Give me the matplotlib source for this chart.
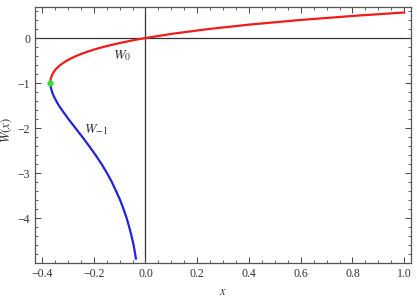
import matplotlib
matplotlib.use('Agg')
import matplotlib.pyplot as plt
from matplotlib.ticker import MultipleLocator

# points (x, W)
w0_x = [-0.368, -0.367, -0.366, -0.363, -0.359, -0.354, -0.348, -0.339, -0.329, -0.317,
        -0.303, -0.287, -0.268, -0.247, -0.222, -0.195, -0.164, -0.129, -0.090, -0.048,
        0.0, 0.111, 0.244, 0.405, 0.597, 0.824, 1.0]
w0_y = [-1.0, -0.95, -0.9, -0.85, -0.8, -0.75, -0.7, -0.65, -0.6, -0.55,
        -0.5, -0.45, -0.4, -0.35, -0.3, -0.25, -0.2, -0.15, -0.1, -0.05,
        0.0, 0.1, 0.2, 0.3, 0.4, 0.5, 0.567]

wm1_x = [-0.368, -0.366, -0.361, -0.354, -0.345, -0.335, -0.323, -0.298, -0.271, -0.244,
         -0.218, -0.193, -0.170, -0.149, -0.130, -0.114, -0.098, -0.085, -0.073, -0.063,
         -0.054, -0.046, -0.040, -0.037]
wm1_y = [-1.0, -1.1, -1.2, -1.3, -1.4, -1.5, -1.6, -1.8, -2.0, -2.2,
         -2.4, -2.6, -2.8, -3.0, -3.2, -3.4, -3.6, -3.8, -4.0, -4.2,
         -4.4, -4.6, -4.8, -4.9]

branch_point = (-0.368, -1.0)

plt.rcParams['font.family'] = ['Liberation Serif', 'DejaVu Serif']
plt.rcParams['mathtext.fontset'] = 'stix'

fig = plt.figure(figsize=(4.17, 3.03), dpi=100)
ax = fig.add_axes([0.084, 0.132, 0.902, 0.845])

ax.axhline(0, color='#333333', lw=0.9, zorder=1)
ax.axvline(0, color='#333333', lw=0.9, zorder=1)

ax.plot(w0_x, w0_y, color='#ee1c1c', lw=1.6, zorder=2)
ax.plot(wm1_x, wm1_y, color='#2222dd', lw=1.6, zorder=2)
ax.plot(*branch_point, 'o', color='#33dd33', ms=3.5, zorder=3)

ax.text(-0.089, -0.38, r'$W_0$', fontsize=10, color='#333333', ha='center', va='center')
ax.text(-0.19, -2.04, r'$W_{-1}$', fontsize=10, color='#333333', ha='center', va='center')

ax.set_xlim(-0.427, 1.027)
ax.set_ylim(-5.0, 0.69)

ax.xaxis.set_major_locator(MultipleLocator(0.2))
ax.xaxis.set_minor_locator(MultipleLocator(0.05))
ax.yaxis.set_major_locator(MultipleLocator(1))
ax.yaxis.set_minor_locator(MultipleLocator(0.2))
ax.set_xticks([-0.4, -0.2, 0.0, 0.2, 0.4, 0.6, 0.8, 1.0])
ax.set_xticklabels(['\u22120.4', '\u22120.2', '0.0', '0.2', '0.4', '0.6', '0.8', '1.0'])
ax.set_yticks([0, -1, -2, -3, -4])
ax.set_yticklabels(['0', '\u22121', '\u22122', '\u22123', '\u22124'])

ax.tick_params(which='both', direction='in', top=True, right=True, colors='#444444',
               labelcolor='#333333', labelsize=8.5)
ax.tick_params(which='major', length=4, width=0.7)
ax.tick_params(which='minor', length=2, width=0.6)
for s in ax.spines.values():
    s.set_color('#555555')
    s.set_linewidth(0.9)

ax.set_xlabel(r'$x$', fontsize=9, color='#333333')
ax.set_ylabel(r'$W(x)$', fontsize=9, color='#333333')
ax.xaxis.set_label_coords(0.5, -0.09)
ax.yaxis.set_label_coords(-0.055, 0.52)

fig.savefig('out.png', dpi=100)
